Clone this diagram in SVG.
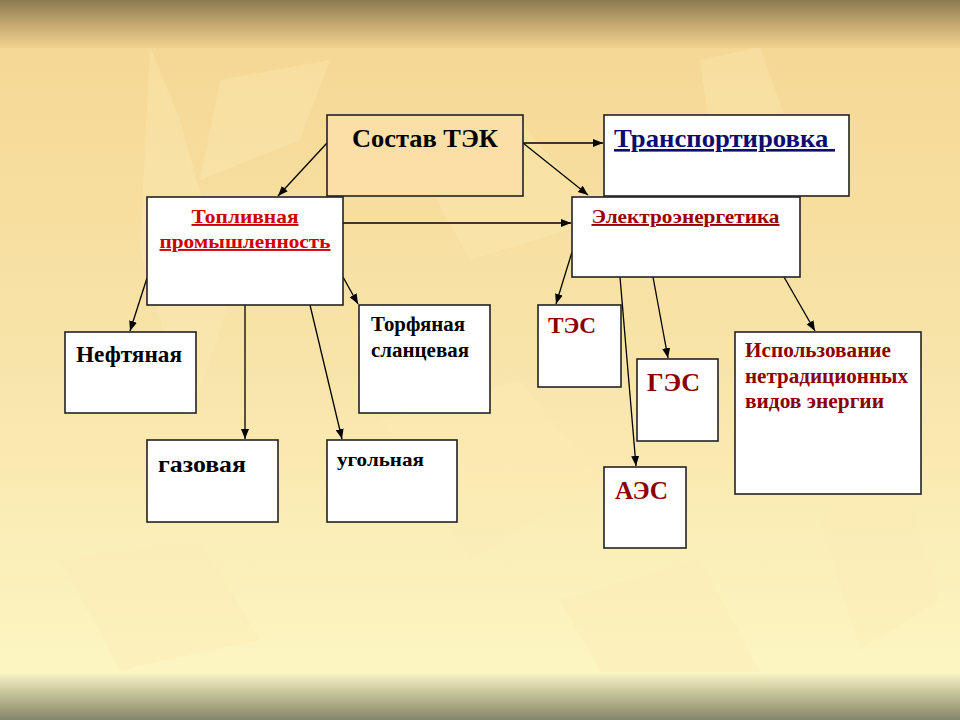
<svg xmlns="http://www.w3.org/2000/svg" width="960" height="720" viewBox="0 0 960 720">
<defs>
<linearGradient id="topband" x1="0" y1="0" x2="0" y2="1">
<stop offset="0" stop-color="#8c7950"/>
<stop offset="0.5" stop-color="#c3a870"/>
<stop offset="1" stop-color="#f2d28f"/>
</linearGradient>
<linearGradient id="body" x1="0" y1="0" x2="0" y2="1">
<stop offset="0" stop-color="#f5d692"/>
<stop offset="0.5" stop-color="#f8e4a9"/>
<stop offset="1" stop-color="#fdf8c6"/>
</linearGradient>
<linearGradient id="botband" x1="0" y1="0" x2="0" y2="1">
<stop offset="0" stop-color="#fcf6c5"/>
<stop offset="0.5" stop-color="#bfbd94"/>
<stop offset="1" stop-color="#84866a"/>
</linearGradient>
<marker id="arr" viewBox="0 0 10 10" refX="10" refY="5" markerWidth="10" markerHeight="10" markerUnits="userSpaceOnUse" orient="auto">
<path d="M0,1 L10,5 L0,9 z" fill="#000"/>
</marker>
<style>
.box{fill:#fff;stroke:#222;stroke-width:1.6}
.peach{fill:#fbdfa6;stroke:#222;stroke-width:1.6}
.t{font-family:"Liberation Serif","Times New Roman",serif;font-weight:bold}
.con line{stroke:#000;stroke-width:1.3;marker-end:url(#arr)}
.leaf{fill:#fbeab5;opacity:0.35}
</style>
</defs>
<g id="background">
<rect x="0" y="0" width="960" height="720" fill="url(#body)"/>
<path class="leaf" d="M150,47 L180,120 L230,300 L190,420 L140,250 Z"/>
<path class="leaf" d="M220,80 L330,60 L300,140 L200,180 Z"/>
<path class="leaf" d="M420,170 L520,120 L600,220 L470,260 Z"/>
<path class="leaf" d="M700,60 L760,47 L800,160 L720,200 Z"/>
<path class="leaf" d="M380,420 L520,380 L600,480 L470,560 Z"/>
<path class="leaf" d="M60,560 L200,540 L260,640 L120,670 Z"/>
<path class="leaf" d="M560,600 L700,560 L760,672 L600,672 Z"/>
<path class="leaf" d="M820,520 L900,470 L940,600 L860,650 Z"/>
<rect x="0" y="0" width="960" height="48" fill="url(#topband)"/>
<rect x="0" y="672" width="960" height="48" fill="url(#botband)"/>
</g>
<g id="connectors" class="con">
<line x1="327" y1="143" x2="278" y2="196"/>
<line x1="523" y1="143" x2="603" y2="143"/>
<line x1="523" y1="143" x2="588" y2="195"/>
<line x1="343" y1="223" x2="571" y2="223"/>
<line x1="147" y1="278" x2="130" y2="331"/>
<line x1="245" y1="305" x2="245" y2="439"/>
<line x1="310" y1="305" x2="342" y2="439"/>
<line x1="343" y1="277" x2="358" y2="304"/>
<line x1="572" y1="252" x2="556" y2="304"/>
<line x1="620" y1="277" x2="636" y2="466"/>
<line x1="653" y1="277" x2="668" y2="358"/>
<line x1="784" y1="277" x2="815" y2="331"/>
</g>
<g id="n-sostav">
<rect class="peach" x="327" y="115" width="196" height="81"/>
<text class="t" x="352" y="147" font-size="26" fill="#000" textLength="146" lengthAdjust="spacingAndGlyphs">Состав ТЭК</text>
</g>
<g id="n-transport">
<rect class="box" x="604" y="115" width="245" height="81"/>
<text class="t" x="614" y="147" font-size="26" fill="#0d0d70" text-decoration="underline" style="white-space:pre" textLength="221" lengthAdjust="spacingAndGlyphs">Транспортировка </text>
</g>
<g id="n-toplivnaya">
<rect class="box" x="147" y="197" width="196" height="108"/>
<text class="t" x="245" y="223" font-size="19" fill="#d00000" text-anchor="middle" text-decoration="underline" textLength="107" lengthAdjust="spacingAndGlyphs">Топливная</text>
<text class="t" x="245" y="248" font-size="19" fill="#d00000" text-anchor="middle" text-decoration="underline" textLength="171" lengthAdjust="spacingAndGlyphs">промышленность</text>
</g>
<g id="n-electro">
<rect class="box" x="572" y="197" width="228" height="80"/>
<text class="t" x="685.5" y="223" font-size="19" fill="#990000" text-anchor="middle" text-decoration="underline" textLength="188" lengthAdjust="spacingAndGlyphs">Электроэнергетика</text>
</g>
<g id="n-neft">
<rect class="box" x="65" y="332" width="131" height="81"/>
<text class="t" x="76" y="362" font-size="23" fill="#000" textLength="106" lengthAdjust="spacingAndGlyphs">Нефтяная</text>
</g>
<g id="n-torf">
<rect class="box" x="359" y="305" width="131" height="108"/>
<text class="t" x="371" y="331" font-size="20" fill="#000" textLength="94" lengthAdjust="spacingAndGlyphs">Торфяная</text>
<text class="t" x="371" y="357" font-size="20" fill="#000" textLength="98" lengthAdjust="spacingAndGlyphs">сланцевая</text>
</g>
<g id="n-gaz">
<rect class="box" x="147" y="440" width="131" height="82"/>
<text class="t" x="158" y="472" font-size="24" fill="#000" textLength="88" lengthAdjust="spacingAndGlyphs">газовая</text>
</g>
<g id="n-ugol">
<rect class="box" x="327" y="440" width="130" height="82"/>
<text class="t" x="337" y="466" font-size="19" fill="#000" textLength="87" lengthAdjust="spacingAndGlyphs">угольная</text>
</g>
<g id="n-tes">
<rect class="box" x="538" y="305" width="83" height="82"/>
<text class="t" x="548" y="333" font-size="23" fill="#8b0000" textLength="48" lengthAdjust="spacingAndGlyphs">ТЭС</text>
</g>
<g id="n-ges">
<rect class="box" x="637" y="359" width="81" height="82"/>
<text class="t" x="647" y="391" font-size="26" fill="#8b0000" textLength="53" lengthAdjust="spacingAndGlyphs">ГЭС</text>
</g>
<g id="n-aes">
<rect class="box" x="604" y="467" width="82" height="81"/>
<text class="t" x="615" y="499" font-size="25" fill="#8b0000" textLength="53" lengthAdjust="spacingAndGlyphs">АЭС</text>
</g>
<g id="n-netrad">
<rect class="box" x="735" y="332" width="186" height="162"/>
<text class="t" x="745" y="357" font-size="20" fill="#8b0000" textLength="146" lengthAdjust="spacingAndGlyphs">Использование</text>
<text class="t" x="745" y="383" font-size="20" fill="#8b0000" textLength="163" lengthAdjust="spacingAndGlyphs">нетрадиционных</text>
<text class="t" x="745" y="408" font-size="20" fill="#8b0000" textLength="139" lengthAdjust="spacingAndGlyphs">видов энергии</text>
</g>
</svg>
